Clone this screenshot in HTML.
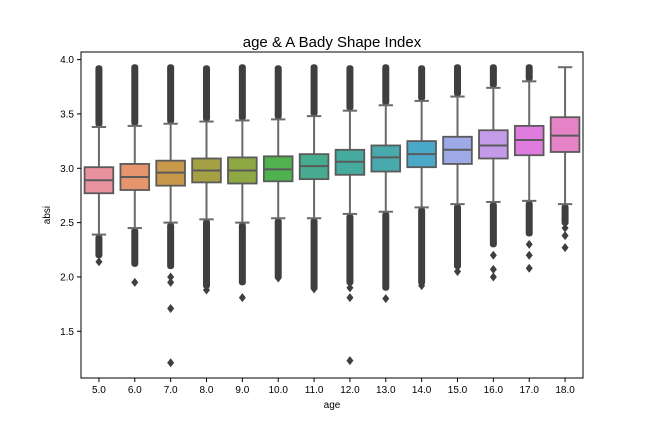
<!DOCTYPE html>
<html><head><meta charset="utf-8"><style>
body{margin:0;background:#fff;font-family:"Liberation Sans",sans-serif}
svg text{font-family:"Liberation Sans",sans-serif;fill:#000}
</style></head><body>
<svg id="c" width="648" height="432" viewBox="0 0 648 432">
<text x="332" y="47" font-size="15" text-anchor="middle">age &amp; A Bady Shape Index</text>
<text x="50" y="215" font-size="10" text-anchor="middle" transform="rotate(-90 50 215)">absi</text>
<text x="332" y="408" font-size="10" text-anchor="middle">age</text>
<g id="plot"></g>
<rect x="81" y="52" width="502" height="326" fill="none" stroke="#000" stroke-width="1"/>
</svg>
<script>
const categories=["5.0","6.0","7.0","8.0","9.0","10.0","11.0","12.0","13.0","14.0","15.0","16.0","17.0","18.0"];
const q1=[2.77,2.80,2.84,2.87,2.86,2.88,2.90,2.94,2.97,3.01,3.04,3.09,3.12,3.15];
const median=[2.89,2.92,2.96,2.98,2.98,2.99,3.02,3.06,3.10,3.13,3.17,3.21,3.26,3.30];
const q3=[3.01,3.04,3.07,3.09,3.10,3.11,3.13,3.17,3.21,3.25,3.29,3.35,3.39,3.47];
const whiskerLow=[2.39,2.45,2.50,2.53,2.50,2.54,2.54,2.58,2.60,2.64,2.67,2.69,2.70,2.67];
const whiskerHigh=[3.38,3.39,3.41,3.43,3.44,3.45,3.48,3.53,3.58,3.62,3.66,3.74,3.80,3.93];
const denseHighMax=[3.92,3.93,3.93,3.92,3.93,3.92,3.93,3.92,3.93,3.92,3.93,3.93,3.93,null];
const denseLowMin=[2.2,2.12,2.1,1.92,1.95,2.0,1.9,1.95,1.9,1.95,2.1,2.3,2.4,2.5];
const sparseLow=[[2.14],[1.95],[2.0,1.95,1.71,1.21],[1.88],[1.81],[1.99],[1.89],[1.9,1.81,1.23],[1.80],[1.92],[2.05],[2.2,2.07,2.0],[2.3,2.2,2.08],[2.45,2.38,2.27]];
const colors=["#e8929f","#e5946b","#c8994b","#a6a044","#8ea843","#50b14f","#47ac8f","#46ab9f","#48aaad","#4aa9c9","#9eaae8","#c49be8","#e07ce0","#e683c6"];
const yTicks=[1.5,2.0,2.5,3.0,3.5,4.0];
const X0=81,X1=583,Y0=378,Y1=52,ymin=1.07,ymax=4.07;
const xs=i=>X0+(i+0.5)*(X1-X0)/categories.length;
const ys=v=>Y0-(v-ymin)/(ymax-ymin)*(Y0-Y1);
const NS="http://www.w3.org/2000/svg";
const g=document.getElementById('plot');
function mk(t,a){const e=document.createElementNS(NS,t);for(const k in a)e.setAttribute(k,a[k]);g.appendChild(e);return e;}
yTicks.forEach(v=>{
 const t=mk('line',{x1:X0-4,x2:X0,y1:ys(v),y2:ys(v),stroke:'#000'});
 
 
 const l=mk('text',{x:X0-7,y:ys(v)+3.5,'font-size':10,'text-anchor':'end'});l.textContent=v.toFixed(1);
 
 
});
function diamond(x,y){const d=mk('path',{d:`M${x},${y-4.5}L${x+3.5},${y}L${x},${y+4.5}L${x-3.5},${y}Z`,fill:'#3f3f3f'});
 
 }
const bw=(X1-X0)/categories.length*0.8;
categories.forEach((c,i)=>{
 const x=xs(i);
 const t=mk('line',{x1:x,x2:x,y1:Y0,y2:Y0+4,stroke:'#000'});
 
 
 const l=mk('text',{x:x,y:Y0+15,'font-size':10,'text-anchor':'middle'});l.textContent=c;
 
 
 if(denseHighMax[i]!==null){
  const d=mk('rect',{x:x-3.5,y:ys(denseHighMax[i])-3,width:7,height:ys(whiskerHigh[i])-ys(denseHighMax[i])+3,fill:'#3f3f3f',rx:3});
  
  
 }
 const dl=mk('rect',{x:x-3.5,y:ys(whiskerLow[i]),width:7,height:ys(denseLowMin[i])-ys(whiskerLow[i])+3,fill:'#3f3f3f',rx:3});
 
 
 sparseLow[i].forEach(v=>diamond(x,ys(v)));
 const w=mk('line',{x1:x,x2:x,y1:ys(whiskerHigh[i]),y2:ys(whiskerLow[i]),stroke:'#6a6a6a','stroke-width':2});
 
 
 [whiskerHigh[i],whiskerLow[i]].forEach(v=>{const cap=mk('line',{x1:x-bw/4,x2:x+bw/4,y1:ys(v),y2:ys(v),stroke:'#6a6a6a','stroke-width':2});
  
  });
 const b=mk('rect',{x:x-bw/2,y:ys(q3[i]),width:bw,height:ys(q1[i])-ys(q3[i]),fill:colors[i],stroke:'#5a5a5a','stroke-width':1.8});
 
 
 const m=mk('line',{x1:x-bw/2,x2:x+bw/2,y1:ys(median[i]),y2:ys(median[i]),stroke:'#5a5a5a','stroke-width':2});
 
 
});
</script>
</body></html>
